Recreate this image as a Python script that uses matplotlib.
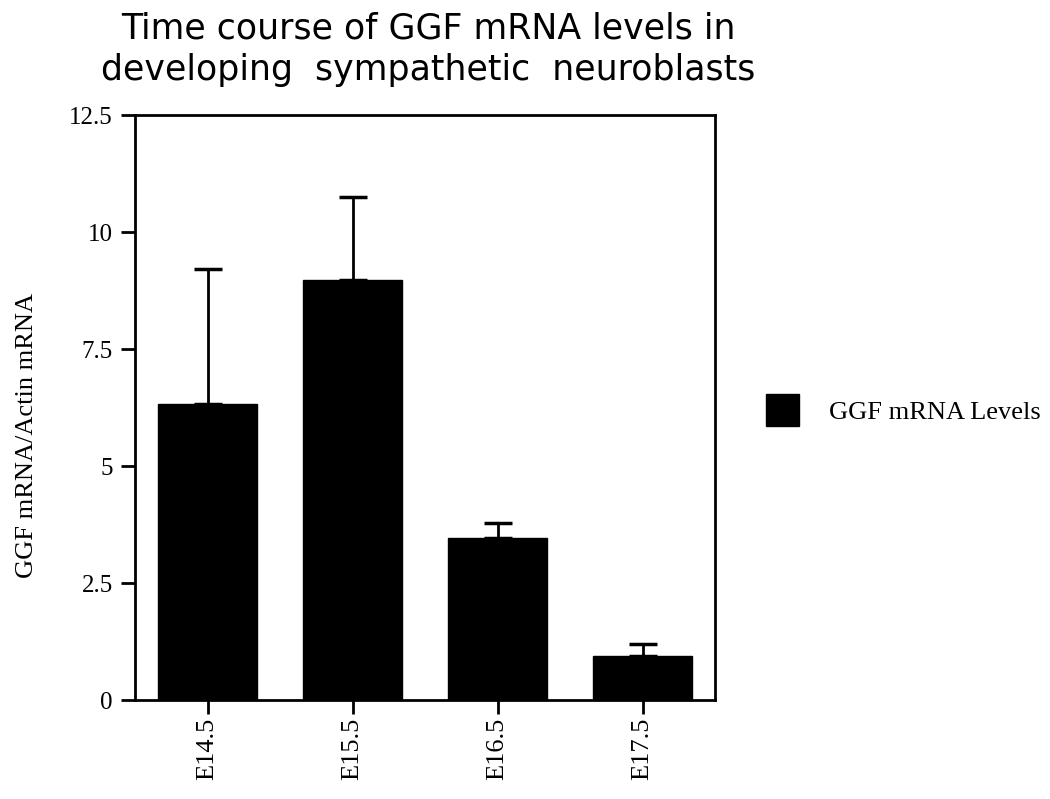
import matplotlib
matplotlib.use("Agg")
import matplotlib.pyplot as plt
from matplotlib.patches import Patch

categories = ["E14.5", "E15.5", "E16.5", "E17.5"]
values = [6.33, 8.97, 3.47, 0.95]
errors = [2.88, 1.78, 0.32, 0.24]
yticks = [0, 2.5, 5, 7.5, 10, 12.5]
yticklabels = ["0", "2.5", "5", "7.5", "10", "12.5"]

fig = plt.figure(figsize=(10.5, 7.99), dpi=100)
ax = fig.add_axes([0.1286, 0.1239, 0.5524, 0.732])

x = list(range(len(categories)))
ax.bar(x, values, width=0.68, color="black", edgecolor="black",
       yerr=[[0] * len(errors), errors], capsize=10,
       error_kw=dict(ecolor="black", elinewidth=2, capthick=2.5))

ax.set_xlim(-0.5, 3.5)
ax.set_ylim(0, 12.5)
ax.set_yticks(yticks)
ax.set_yticklabels(yticklabels, family="Liberation Serif", fontsize=18)
ax.set_xticks(x)
ax.set_xticklabels(categories, rotation=90, family="Liberation Serif", fontsize=19)
ax.tick_params(axis="y", direction="out", width=2, length=10, pad=6, color="black")
ax.tick_params(axis="x", direction="out", width=2, length=10, pad=3, color="black")
for s in ax.spines.values():
    s.set_linewidth(2)

ax.set_ylabel("GGF mRNA/Actin mRNA", family="Liberation Serif", fontsize=19)
ax.yaxis.set_label_coords(-0.168, 0.453)

fig.text(0.408, 0.986, "Time course of GGF mRNA levels in\ndeveloping  sympathetic  neuroblasts",
         ha="center", va="top", family="DejaVu Sans", fontsize=25, linespacing=1.3)

handle = Patch(facecolor="black", edgecolor="black")
fig.legend([handle], ["GGF mRNA Levels"], loc="center left", bbox_to_anchor=(0.7065, 0.487),
           frameon=False, prop=dict(family="Liberation Serif", size=19),
           handlelength=1.25, handleheight=1.5, handletextpad=1.15)

fig.savefig("out.png", dpi=100)
